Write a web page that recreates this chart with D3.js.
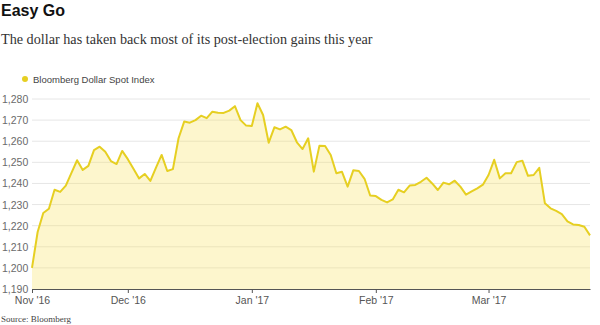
<!DOCTYPE html>
<html>
<head>
<meta charset="utf-8">
<script src="https://cdn.jsdelivr.net/npm/d3@7"></script>
<style>
  body { margin: 0; background: #fff; }
  svg { display: block; }
</style>
</head>
<body>
<script>
// month labels and the daily (weekday) closes of each month
const months = ["Nov '16", "Dec '16", "Jan '17", "Feb '17", "Mar '17"];

const nov = [1200, 1217, 1226, 1228, 1237, 1236, 1239, 1245, 1251, 1246.4, 1248.3, 1255.8, 1257.4, 1255, 1250.6, 1249.2, 1255.4];
const dec = [1251.5, 1247, 1242.4, 1244.5, 1241.2, 1247.5, 1253.5, 1245.9, 1246.8, 1261.4, 1269.3, 1268.8, 1270, 1272.1, 1270.9, 1274, 1273.5, 1273.4, 1274.5, 1276.6, 1270, 1267.4];
const jan = [1267.2, 1278, 1272.4, 1259.3, 1266.6, 1265.6, 1266.9, 1265.3, 1259.5, 1256.3, 1261.4, 1245.6, 1257.9, 1257.7, 1253.5, 1244.8, 1245.5, 1238.5, 1246.2, 1245.9, 1242.2, 1234.3];
const feb = [1234, 1232.2, 1231, 1232.4, 1237, 1235.8, 1239, 1239.3, 1240.8, 1242.7, 1240, 1236.9, 1240.4, 1239.6, 1241.3, 1238.5, 1234.7, 1236.2, 1237.7, 1239.4];
const mar = [1244, 1251.2, 1242.4, 1244.8, 1244.8, 1250.1, 1250.8, 1243.6, 1244, 1247.4, 1230.6, 1228.2, 1227, 1225.5, 1222, 1220.6, 1220.3, 1219.5, 1215.4];

const yTicks = [1190, 1200, 1210, 1220, 1230, 1240, 1250, 1260, 1270, 1280];

const monthValues = [nov, dec, jan, feb, mar];

const data = [];
const monthStarts = [];
monthValues.forEach((vals, m) => {
    monthStarts.push({ label: months[m], i: data.length });
    vals.forEach(v => data.push({ i: data.length, value: v }));
});

const width = 600;
const height = 325;
const margin = { left: 32, right: 10, top: 99, bottom: 36 };

const yellow = '#e6cf22';

const svg = d3.select('body').append('svg')
    .attr('width', width)
    .attr('height', height);

const x = d3.scaleLinear()
    .domain([0, data.length - 1])
    .range([margin.left, width - margin.right]);

const y = d3.scaleLinear()
    .domain([1190, 1280])
    .range([height - margin.bottom, margin.top]);

// titles
svg.append('text')
    .attr('x', 1)
    .attr('y', 16)
    .attr('font-family', 'Liberation Sans, Arial, sans-serif')
    .attr('font-weight', 'bold')
    .attr('font-size', 16)
    .attr('fill', '#111')
    .text('Easy Go');

svg.append('text')
    .attr('x', 1)
    .attr('y', 44)
    .attr('font-family', 'Liberation Serif, Times New Roman, serif')
    .attr('font-size', 14.2)
    .attr('fill', '#333')
    .text('The dollar has taken back most of its post-election gains this year');

// legend
svg.append('circle')
    .attr('cx', 25)
    .attr('cy', 79)
    .attr('r', 3)
    .attr('fill', yellow);

svg.append('text')
    .attr('x', 33)
    .attr('y', 82.5)
    .attr('font-family', 'Liberation Sans, Arial, sans-serif')
    .attr('font-size', 9.5)
    .attr('fill', '#444')
    .text('Bloomberg Dollar Spot Index');

// grid
svg.append('g')
    .selectAll('line')
    .data(yTicks.filter(t => t > 1190))
    .join('line')
        .attr('x1', margin.left)
        .attr('x2', width - margin.right)
        .attr('y1', d => y(d))
        .attr('y2', d => y(d))
        .attr('stroke', '#e6e6e6')
        .attr('stroke-width', 1);

svg.append('g')
    .selectAll('text')
    .data(yTicks)
    .join('text')
        .attr('x', 2)
        .attr('y', d => y(d) + 4)
        .attr('font-family', 'Liberation Sans, Arial, sans-serif')
        .attr('font-size', 10.5)
        .attr('fill', '#6a6a6a')
        .text(d => d3.format(',')(d));

// area + line
const area = d3.area()
    .x(d => x(d.i))
    .y0(y(1190))
    .y1(d => y(d.value));

const line = d3.line()
    .x(d => x(d.i))
    .y(d => y(d.value));

svg.append('path')
    .datum(data)
    .attr('d', area)
    .attr('fill', '#f9e05a')
    .attr('fill-opacity', 0.3);

svg.append('path')
    .datum(data)
    .attr('d', line)
    .attr('fill', 'none')
    .attr('stroke', yellow)
    .attr('stroke-width', 2)
    .attr('stroke-linejoin', 'round');

// x axis
const axis = svg.append('g')
    .attr('transform', `translate(0, ${y(1190)})`)
    .call(d3.axisBottom(x)
        .tickValues(monthStarts.map(d => d.i))
        .tickFormat((_, k) => monthStarts[k].label)
        .tickSize(4)
        .tickSizeOuter(0));

axis.select('.domain').attr('stroke', '#555');
axis.selectAll('.tick line').attr('stroke', '#555');
axis.selectAll('.tick text')
    .attr('dy', 0)
    .attr('y', 15)
    .attr('font-family', 'Liberation Sans, Arial, sans-serif')
    .attr('font-size', 10.5)
    .attr('fill', '#555');

svg.append('text')
    .attr('x', 1)
    .attr('y', 322)
    .attr('font-family', 'Liberation Serif, Times New Roman, serif')
    .attr('font-size', 9)
    .attr('fill', '#444')
    .text('Source: Bloomberg');
</script>
</body>
</html>
